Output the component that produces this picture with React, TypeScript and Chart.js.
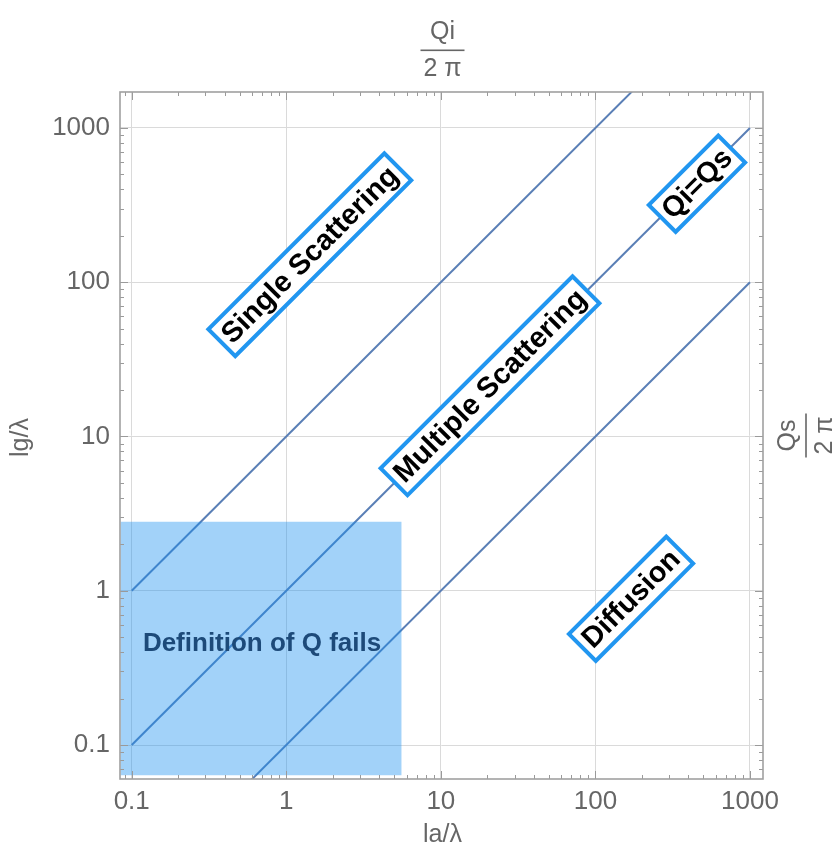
import React, { useEffect, useRef } from "react";
import { Chart, registerables } from "chart.js";

Chart.register(...registerables);

// ---- axis ranges & ticks ----
const X_MIN = 0.084;
const X_MAX = 1214;
const Y_MIN = 0.0602;
const Y_MAX = 1711;
const X_TICKS = [0.1, 1, 10, 100, 1000];
const X_TICK_LABELS = ["0.1", "1", "10", "100", "1000"];
const Y_TICKS = [0.1, 1, 10, 100, 1000];
const Y_TICK_LABELS = ["0.1", "1", "10", "100", "1000"];
const DECADES = [0.01, 0.1, 1, 10, 100, 1000];
const MINOR_MULTIPLES = [2, 3, 4, 5, 6, 7, 8, 9];

// ---- line series ----
const LINE_HIGH_X = [0.1, 1000];
const LINE_HIGH_Y = [1, 10000];
const LINE_EQUAL_X = [0.1, 1000];
const LINE_EQUAL_Y = [0.1, 1000];
const LINE_LOW_X = [0.1, 1000];
const LINE_LOW_Y = [0.01, 100];

// ---- shaded region ----
const RECT_X = [0.0845, 5.58];
const RECT_TOP = [2.8, 2.8];
const RECT_BOTTOM = 0.0637;

// ---- region labels ----
const REGION_LABELS = ["Single Scattering", "Multiple Scattering", "Qi=Qs", "Diffusion"];
const REGION_X = [1.42, 20.8, 454, 170];
const REGION_Y = [150.7, 21.3, 435, 0.887];
const FAIL_LABEL = "Definition of Q fails";
const FAIL_X = [0.697];
const FAIL_Y = [0.453];

// ---- axis titles ----
const X_TITLE = "la/λ";
const Y_TITLE = "lg/λ";
const TOP_NUM = "Qi";
const RIGHT_NUM = "Qs";
const DEN = "2 π";

const LINE_COLOR = "#5a7fb6";
const FONT = '"Liberation Sans", Arial, sans-serif';

const pts = (xs: number[], ys: number[]) => xs.map((x, i) => ({ x, y: ys[i] }));

const decorPlugin = {
  id: "decor",
  beforeDraw(chart: any) {
    const ctx = chart.ctx;
    ctx.save();
    ctx.fillStyle = "#ffffff";
    ctx.fillRect(0, 0, chart.width, chart.height);
    ctx.restore();
  },
  afterDatasetsDraw(chart: any) {
    const ctx = chart.ctx;
    const xs = chart.scales.x;
    const ys = chart.scales.y;
    ctx.save();
    // failure label
    ctx.font = `bold 26px ${FONT}`;
    ctx.fillStyle = "#1d4a79";
    ctx.textAlign = "center";
    ctx.textBaseline = "middle";
    ctx.fillText(FAIL_LABEL, xs.getPixelForValue(FAIL_X[0]), ys.getPixelForValue(FAIL_Y[0]));
    // boxed rotated labels
    REGION_LABELS.forEach((t, i) => {
      const px = xs.getPixelForValue(REGION_X[i]);
      const py = ys.getPixelForValue(REGION_Y[i]);
      ctx.save();
      ctx.translate(px, py);
      ctx.rotate(-Math.PI / 4);
      ctx.font = `bold 29px ${FONT}`;
      const w = ctx.measureText(t).width + 12;
      const h = 38;
      ctx.fillStyle = "#ffffff";
      ctx.fillRect(-w / 2, -h / 2, w, h);
      ctx.lineWidth = 4;
      ctx.strokeStyle = "#2196f0";
      ctx.strokeRect(-w / 2, -h / 2, w, h);
      ctx.fillStyle = "#000000";
      ctx.textAlign = "center";
      ctx.textBaseline = "middle";
      ctx.fillText(t, 0, 1);
      ctx.restore();
    });
    ctx.restore();
  },
  afterDraw(chart: any) {
    const ctx = chart.ctx;
    const { left, right, top, bottom } = chart.chartArea;
    const xs = chart.scales.x;
    const ys = chart.scales.y;
    ctx.save();
    // inward ticks
    ctx.strokeStyle = "#9a9a9a";
    ctx.lineWidth = 1;
    const drawX = (v: number, len: number) => {
      const p = Math.round(xs.getPixelForValue(v)) + 0.5;
      ctx.beginPath();
      ctx.moveTo(p, bottom);
      ctx.lineTo(p, bottom - len);
      ctx.moveTo(p, top);
      ctx.lineTo(p, top + len);
      ctx.stroke();
    };
    const drawY = (v: number, len: number) => {
      const p = Math.round(ys.getPixelForValue(v)) + 0.5;
      ctx.beginPath();
      ctx.moveTo(left, p);
      ctx.lineTo(left + len, p);
      ctx.moveTo(right, p);
      ctx.lineTo(right - len, p);
      ctx.stroke();
    };
    X_TICKS.forEach((v) => drawX(v, 8));
    Y_TICKS.forEach((v) => drawY(v, 8));
    DECADES.forEach((d) =>
      MINOR_MULTIPLES.forEach((m) => {
        const v = d * m;
        if (v > X_MIN && v < X_MAX) drawX(v, 4);
        if (v > Y_MIN && v < Y_MAX) drawY(v, 4);
      })
    );
    // frame
    ctx.strokeStyle = "#a0a0a0";
    ctx.lineWidth = 1.6;
    ctx.strokeRect(left, top, right - left, bottom - top);

    // titles
    ctx.fillStyle = "#666666";
    ctx.font = `25px ${FONT}`;
    ctx.textAlign = "center";
    ctx.textBaseline = "middle";
    const cx = (left + right) / 2;
    const cy = (top + bottom) / 2;
    ctx.fillText(X_TITLE, cx + 1, 835);
    ctx.save();
    ctx.translate(21, cy + 2);
    ctx.rotate(-Math.PI / 2);
    ctx.fillText(Y_TITLE, 0, 0);
    ctx.restore();
    // top fraction
    ctx.fillText(TOP_NUM, cx + 1, 32);
    ctx.fillRect(cx - 21, 49.5, 44, 1.6);
    ctx.fillText(DEN, cx + 1, 69);
    // right fraction
    ctx.save();
    ctx.translate(806, cy);
    ctx.rotate(-Math.PI / 2);
    ctx.fillText(RIGHT_NUM, 0, -18);
    ctx.fillRect(-22, -0.8, 44, 1.6);
    ctx.fillText(DEN, 0, 19);
    ctx.restore();
    ctx.restore();
  },
};

export default function App() {
  const ref = useRef<HTMLCanvasElement | null>(null);
  useEffect(() => {
    if (!ref.current) return;
    const lineDs = (xs: number[], ys: number[]) => ({
      type: "line" as const,
      data: pts(xs, ys),
      borderColor: LINE_COLOR,
      borderWidth: 2,
      pointRadius: 0,
      fill: false,
      showLine: true,
    });
    const chart = new Chart(ref.current, {
      type: "scatter",
      data: {
        datasets: [
          {
            type: "line",
            data: pts(RECT_X, RECT_TOP),
            borderWidth: 0,
            borderColor: "rgba(0,0,0,0)",
            backgroundColor: "rgba(22,142,240,0.4)",
            pointRadius: 0,
            fill: { value: RECT_BOTTOM },
            showLine: true,
          } as any,
          lineDs(LINE_HIGH_X, LINE_HIGH_Y),
          lineDs(LINE_EQUAL_X, LINE_EQUAL_Y),
          lineDs(LINE_LOW_X, LINE_LOW_Y),
        ],
      },
      options: {
        responsive: false,
        animation: false,
        events: [],
        layout: { padding: { top: 92, right: 77, left: 0, bottom: 0 } },
        plugins: { legend: { display: false }, tooltip: { enabled: false }, title: { display: false } },
        scales: {
          x: {
            type: "logarithmic",
            position: "bottom",
            min: X_MIN,
            max: X_MAX,
            afterBuildTicks: (s: any) => {
              s.ticks = X_TICKS.map((v) => ({ value: v }));
            },
            afterFit: (s: any) => {
              s.height = 76;
              s.paddingLeft = 0;
              s.paddingRight = 0;
            },
            ticks: {
              autoSkip: false,
              maxRotation: 0,
              minRotation: 0,
              padding: 7,
              color: "#666666",
              font: { family: FONT, size: 26 },
              callback: (v: any) => X_TICK_LABELS[X_TICKS.indexOf(Number(v))] ?? "",
            },
            grid: { color: "#dadada", lineWidth: 1, drawTicks: false },
            border: { display: false },
          },
          y: {
            type: "logarithmic",
            position: "left",
            min: Y_MIN,
            max: Y_MAX,
            afterBuildTicks: (s: any) => {
              s.ticks = Y_TICKS.map((v) => ({ value: v }));
            },
            afterFit: (s: any) => {
              s.width = 120;
              s.paddingTop = 0;
              s.paddingBottom = 0;
            },
            ticks: {
              autoSkip: false,
              padding: 10,
              color: "#666666",
              font: { family: FONT, size: 26 },
              callback: (v: any) => Y_TICK_LABELS[Y_TICKS.indexOf(Number(v))] ?? "",
            },
            grid: { color: "#dadada", lineWidth: 1, drawTicks: false },
            border: { display: false },
          },
        },
      },
      plugins: [decorPlugin],
    } as any);
    return () => chart.destroy();
  }, []);
  return (
    <div style={{ position: "fixed", left: 0, top: 0, width: 840, height: 855, background: "#fff" }}>
      <canvas ref={ref} width={840} height={855} style={{ width: 840, height: 855, display: "block" }} />
    </div>
  );
}
